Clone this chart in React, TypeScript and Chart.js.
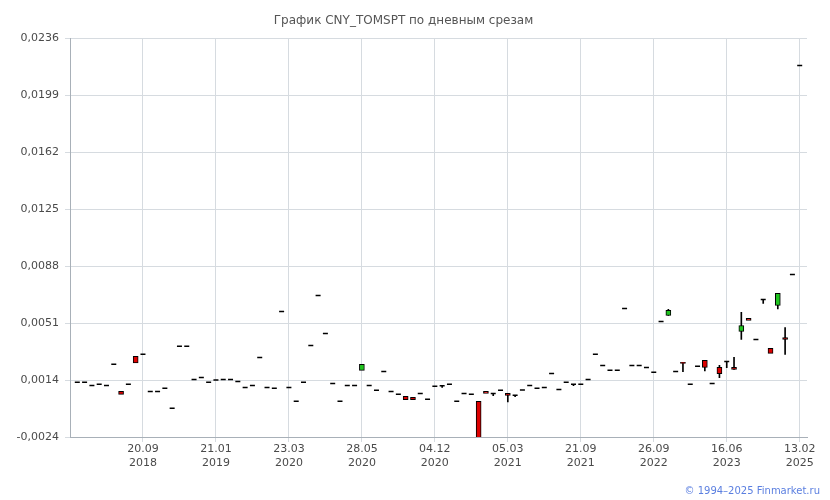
import React, { useEffect, useRef } from 'react';
import { Chart, registerables } from 'chart.js';

Chart.register(...registerables);

const titleText = 'График CNY_TOMSPT по дневным срезам';
const footerText = '© 1994–2025 Finmarket.ru';

const tickIndex = [9, 19, 29, 39, 49, 59, 69, 79, 89, 99];
const tickDates = ['20.09', '21.01', '23.03', '28.05', '04.12', '05.03', '21.09', '26.09', '16.06', '13.02'];
const tickYears = ['2018', '2019', '2020', '2020', '2020', '2021', '2021', '2022', '2023', '2025'];

const yMin = -0.00235;
const yMax = 0.0236;
const yTickLabels = ['-0,0024', '0,0014', '0,0051', '0,0088', '0,0125', '0,0162', '0,0199', '0,0236'];

const openVals = [
  0.00121, 0.00121, 0.00101, 0.00108, 0.00101, 0.00238, 0.00062, 0.00108, 0.0029, 0.00303,
  0.00062, 0.00062, 0.00082, -0.00048, 0.00355, 0.00355, 0.0014, 0.00153, 0.00121, 0.00136,
  0.0014, 0.0014, 0.00127, 0.00088, 0.00101, 0.00283, 0.00088, 0.00082, 0.00582, 0.00088,
  -0.00003, 0.00121, 0.00361, 0.00687, 0.00439, 0.00114, -0.00003, 0.00101, 0.00101, 0.00199,
  0.00101, 0.00069, 0.00192, 0.00062, 0.00043, 0.0003, 0.00023, 0.00049, 0.0001, 0.00095,
  0.00099, 0.00108, -0.00003, 0.00049, 0.00043, -0.00003, 0.00062, 0.00049, 0.00069, 0.00049,
  0.00036, 0.00071, 0.00101, 0.00082, 0.00088, 0.00179, 0.00075, 0.00121, 0.00108, 0.00108,
  0.0014, 0.00303, 0.00231, 0.00199, 0.00199, 0.00602, 0.00231, 0.00231, 0.00218, 0.00186,
  0.00517, 0.00556, 0.00192, 0.00251, 0.00108, 0.00225, 0.00264, 0.00114, 0.00218, 0.00257,
  0.00218, 0.00452, 0.00537, 0.004, 0.0066, 0.00342, 0.00621, 0.00413, 0.00823, 0.02184,
];

const closeVals = [
  0.00121, 0.00121, 0.00101, 0.00108, 0.00101, 0.00238, 0.00043, 0.00108, 0.00248, 0.00303,
  0.00062, 0.00062, 0.00082, -0.00048, 0.00355, 0.00355, 0.0014, 0.00153, 0.00121, 0.00136,
  0.0014, 0.0014, 0.00127, 0.00088, 0.00101, 0.00283, 0.00088, 0.00082, 0.00582, 0.00088,
  -0.00003, 0.00121, 0.00361, 0.00687, 0.00439, 0.00114, -0.00003, 0.00101, 0.00101, 0.00238,
  0.00101, 0.00069, 0.00192, 0.00062, 0.00043, 0.00008, 0.00008, 0.00049, 0.0001, 0.00095,
  0.00099, 0.00108, -0.00003, 0.00049, 0.00043, -0.0026, 0.00049, 0.00049, 0.00069, 0.00036,
  0.00036, 0.00071, 0.00101, 0.00082, 0.00088, 0.00179, 0.00075, 0.00121, 0.00108, 0.00108,
  0.0014, 0.00303, 0.00231, 0.00199, 0.00199, 0.00602, 0.00231, 0.00231, 0.00218, 0.00186,
  0.00517, 0.00589, 0.00192, 0.00244, 0.00108, 0.00225, 0.00218, 0.00114, 0.00177, 0.00257,
  0.00205, 0.00491, 0.00524, 0.004, 0.0066, 0.00309, 0.007, 0.004, 0.00823, 0.02184,
];

// null = no wick beyond the body
const highVals: (number | null)[] = [
  null, null, null, null, null, null, null, null, null, null,
  null, null, null, null, null, null, null, null, null, null,
  null, null, null, null, null, null, null, null, null, null,
  null, null, null, null, null, null, null, null, null, null,
  null, null, null, null, null, null, null, null, null, null,
  null, null, null, null, null, null, null, null, null, null,
  null, null, null, null, null, null, null, null, null, null,
  null, null, null, null, null, null, null, null, null, null,
  null, 0.00596, null, null, null, null, null, null, 0.00231, null,
  0.00283, 0.00576, null, null, null, null, null, 0.00478, null, null,
];

const lowVals: (number | null)[] = [
  null, null, null, null, null, null, null, null, null, null,
  null, null, null, null, null, null, null, null, null, null,
  null, null, null, null, null, null, null, null, null, null,
  null, null, null, null, null, null, null, null, null, null,
  null, null, null, null, null, null, null, null, null, null,
  0.00088, null, null, null, null, null, null, 0.00034, null, -0.00006,
  0.00027, null, null, null, null, null, null, null, 0.00099, null,
  null, null, null, null, null, null, null, null, null, null,
  null, null, null, 0.0019, null, null, 0.00196, null, 0.00151, 0.00216,
  null, 0.004, null, null, 0.00634, null, 0.00599, 0.00303, null, null,
];

const UP_COLOR = '#1fc41f';
const DOWN_COLOR = '#dd0000';
const GRID_COLOR = '#d6dbe0';
const AXIS_COLOR = '#a8b0b8';
const TEXT_COLOR = '#4a4a4a';
const FONT = '"DejaVu Sans", Verdana, sans-serif';

export default function App() {
  const canvasRef = useRef<HTMLCanvasElement | null>(null);

  useEffect(() => {
    if (!canvasRef.current) return;

    const bodies: any[] = [];
    const bodyColors: string[] = [];
    const dojis: any[] = [];
    const wicks: any[] = [];

    openVals.forEach((o, i) => {
      const c = closeVals[i];
      const top = Math.max(o, c);
      const bot = Math.min(o, c);
      if (o === c) {
        dojis.push({ x: i, y: o });
      } else {
        bodies.push({ x: i, y: [o, c] });
        bodyColors.push(c > o ? UP_COLOR : DOWN_COLOR);
      }
      const h = highVals[i];
      const l = lowVals[i];
      if (h !== null || l !== null) {
        wicks.push({ x: i, y: [l !== null ? l : bot, h !== null ? h : top] });
      }
    });

    const chart = new Chart(canvasRef.current, {
      type: 'bar',
      data: {
        datasets: [
          {
            type: 'bar',
            label: 'wick',
            data: wicks,
            backgroundColor: '#000',
            barThickness: 1,
            grouped: false,
            order: 3,
          } as any,
          {
            type: 'bar',
            label: 'body',
            data: bodies,
            backgroundColor: bodyColors,
            borderColor: '#000',
            borderWidth: 1,
            borderSkipped: false,
            barThickness: 5,
            grouped: false,
            order: 2,
          } as any,
          {
            type: 'line',
            label: 'doji',
            data: dojis,
            showLine: false,
            pointStyle: 'line',
            pointRadius: 2.5,
            pointBorderWidth: 1.5,
            pointBorderColor: '#000',
            pointBackgroundColor: '#000',
            order: 1,
          } as any,
        ],
      },
      options: {
        responsive: false,
        animation: false,
        layout: { padding: { left: 0, right: 23, top: 0, bottom: 0 } },
        plugins: {
          legend: { display: false },
          tooltip: { enabled: false },
          title: {
            display: true,
            text: titleText,
            color: '#555',
            font: { family: FONT, size: 12, weight: 'normal' },
            padding: { top: 14, bottom: 10 },
          },
        },
        scales: {
          x: {
            type: 'linear',
            min: -1,
            max: 100,
            offset: false,
            afterBuildTicks: (scale: any) => {
              scale.ticks = tickIndex.map((v) => ({ value: v }));
            },
            afterFit: (scale: any) => {
              scale.height = 63;
            },
            ticks: {
              autoSkip: false,
              maxRotation: 0,
              color: TEXT_COLOR,
              padding: 1,
              font: { family: FONT, size: 11, lineHeight: 1.2 },
              callback: (_v: any, i: number) => [tickDates[i], tickYears[i]],
            },
            grid: { color: GRID_COLOR, tickLength: 5, drawTicks: true, offset: false },
            border: { color: AXIS_COLOR, width: 1 },
          },
          y: {
            type: 'linear',
            min: yMin,
            max: yMax,
            afterBuildTicks: (scale: any) => {
              const n = yTickLabels.length - 1;
              scale.ticks = yTickLabels.map((_, k) => ({ value: yMin + ((yMax - yMin) * k) / n }));
            },
            afterFit: (scale: any) => {
              scale.width = 70;
            },
            ticks: {
              color: TEXT_COLOR,
              padding: 6,
              font: { family: FONT, size: 11 },
              callback: (_v: any, i: number) => yTickLabels[i],
            },
            grid: { color: GRID_COLOR, tickLength: 5, drawTicks: true },
            border: { color: AXIS_COLOR, width: 1 },
          },
        },
      } as any,
    });

    return () => chart.destroy();
  }, []);

  return (
    <div style={{ position: 'fixed', left: 0, top: 0, width: 830, height: 500, background: '#fff' }}>
      <canvas ref={canvasRef} width={830} height={500} />
      <div
        style={{
          position: 'absolute',
          right: 10,
          top: 485,
          fontFamily: FONT,
          fontSize: 10,
          color: '#5b7fe0',
          whiteSpace: 'nowrap',
        }}
      >
        {footerText}
      </div>
    </div>
  );
}
